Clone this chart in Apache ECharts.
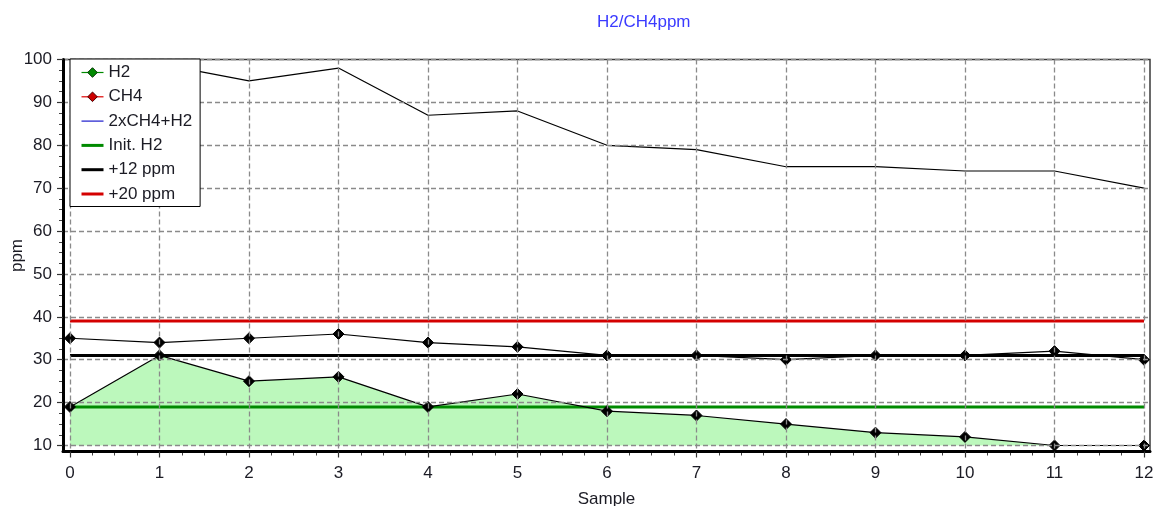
<!DOCTYPE html>
<html>
<head>
<meta charset="utf-8">
<title>H2/CH4ppm</title>
<script src="https://cdn.jsdelivr.net/npm/echarts@6/dist/echarts.min.js"></script>
<style>
  html, body { margin: 0; padding: 0; background: #ffffff; }
  #chart { width: 1158px; height: 506px; }
</style>
</head>
<body>
<div id="chart"></div>
<script>
// Sample numbers along the x axis
const samples = [0, 1, 2, 3, 4, 5, 6, 7, 8, 9, 10, 11, 12];
// Measured concentrations (ppm)
const h2Values = [19, 31, 25, 26, 19, 22, 18, 17, 15, 13, 12, 10, 10];
const ch4Values = [35, 34, 35, 36, 34, 33, 31, 31, 30, 31, 31, 32, 30];
const sumValues = [89, 99, 95, 98, 87, 88, 80, 79, 75, 75, 74, 74, 70];
// Reference levels (ppm)
const initH2Level = 19;
const plus12Level = 31;
const plus20Level = 39;
// Axis tick labels
const xTickValues = [0, 1, 2, 3, 4, 5, 6, 7, 8, 9, 10, 11, 12];
const yTickValues = [10, 20, 30, 40, 50, 60, 70, 80, 90, 100];

const FONT = '"Liberation Sans", Arial, sans-serif';
const TEXT_COLOR = '#1b1b24';

// Minor ticks: four divisions between each labelled tick
function quarterSteps(values) {
  const out = [];
  for (let i = 0; i < values.length - 1; i++) {
    const a = values[i], b = values[i + 1];
    for (let k = 1; k < 4; k++) out.push(a + (b - a) * k / 4);
  }
  return out;
}

const pairs = (ys) => samples.map((s, i) => [s, ys[i]]);
const levelLine = (v) => [[samples[0], v], [samples[samples.length - 1], v]];

const X_MIN = -0.078, X_MAX = 12.067;
const Y_MIN = 8.6, Y_MAX = 100;

const dashed = { color: '#8a8a8a', width: 1.3, type: [5, 3] };
const hiddenSymbol = { opacity: 0 };
const markerStyle = { color: '#000000', borderColor: '#000000', borderWidth: 1 };

const chart = echarts.init(document.getElementById('chart'), null, { renderer: 'canvas' });

chart.setOption({
  animation: false,
  backgroundColor: '#ffffff',
  textStyle: { fontFamily: FONT },
  title: {
    text: 'H2/CH4ppm',
    left: 597,
    top: 14,
    padding: 0,
    textStyle: { color: '#3b3bff', fontSize: 17, fontWeight: 'normal', fontFamily: FONT }
  },
  grid: {
    left: 63, right: 8, top: 59.5, bottom: 54.5,
    containLabel: false,
    outerBoundsMode: 'none',
    show: true,
    backgroundColor: '#ffffff',
    borderColor: '#3a3a3a',
    borderWidth: 1.5
  },
  legend: {
    orient: 'vertical',
    left: 70,
    top: 59,
    z: 20,
    padding: [5, 8, 4, 10],
    itemGap: 7.3,
    itemWidth: 22,
    itemHeight: 12,
    itemTextGap: 6,
    backgroundColor: '#ffffff',
    borderColor: '#000000',
    borderWidth: 1,
    borderRadius: 0,
    selectedMode: false,
    textStyle: { fontSize: 17, color: TEXT_COLOR, fontFamily: FONT },
    data: [
      { name: 'H2', itemStyle: { color: '#008a00', borderColor: '#003300', borderWidth: 1 }, lineStyle: { color: '#008a00', width: 1.2 } },
      { name: 'CH4', itemStyle: { color: '#cc0000', borderColor: '#4a0000', borderWidth: 1 }, lineStyle: { color: '#dd0000', width: 1.2 } },
      { name: '2xCH4+H2', itemStyle: hiddenSymbol, lineStyle: { color: '#1a1acc', width: 1.2 } },
      { name: 'Init. H2', itemStyle: hiddenSymbol, lineStyle: { color: '#008a00', width: 3 } },
      { name: '+12 ppm', itemStyle: hiddenSymbol, lineStyle: { color: '#000000', width: 3 } },
      { name: '+20 ppm', itemStyle: hiddenSymbol, lineStyle: { color: '#d40000', width: 3 } }
    ]
  },
  xAxis: [
    {
      type: 'value',
      min: X_MIN, max: X_MAX,
      name: 'Sample',
      nameLocation: 'middle',
      nameGap: 39,
      nameMoveOverlap: false,
      nameTextStyle: { fontSize: 17, color: TEXT_COLOR, fontFamily: FONT },
      axisLine: { show: true, onZero: false, lineStyle: { color: '#000000', width: 3 } },
      axisTick: { show: true, inside: false, length: 6, customValues: xTickValues, lineStyle: { color: '#333333', width: 1.2 } },
      axisLabel: { customValues: xTickValues, margin: 13, fontSize: 17, color: TEXT_COLOR, fontFamily: FONT },
      splitLine: { show: true, lineStyle: dashed },
      z: 5
    },
    {
      type: 'value',
      min: X_MIN, max: X_MAX,
      position: 'bottom',
      axisLine: { show: false, onZero: false },
      axisTick: { show: true, length: 4, customValues: quarterSteps(xTickValues), lineStyle: { color: '#444444', width: 1 } },
      axisLabel: { show: false },
      splitLine: { show: false }
    }
  ],
  yAxis: [
    {
      type: 'value',
      min: Y_MIN, max: Y_MAX,
      name: 'ppm',
      nameLocation: 'middle',
      nameGap: 37,
      nameRotate: 90,
      nameMoveOverlap: false,
      nameTextStyle: { fontSize: 17, color: TEXT_COLOR, fontFamily: FONT },
      axisLine: { show: true, onZero: false, lineStyle: { color: '#000000', width: 3 } },
      axisTick: { show: true, inside: false, length: 6, customValues: yTickValues, lineStyle: { color: '#333333', width: 1.2 } },
      axisLabel: { customValues: yTickValues, margin: 11, fontSize: 17, color: TEXT_COLOR, fontFamily: FONT },
      splitLine: { show: true, lineStyle: dashed },
      z: 5
    },
    {
      type: 'value',
      min: Y_MIN, max: Y_MAX,
      position: 'left',
      axisLine: { show: false, onZero: false },
      axisTick: { show: true, length: 4, customValues: quarterSteps(yTickValues), lineStyle: { color: '#444444', width: 1 } },
      axisLabel: { show: false },
      splitLine: { show: false }
    }
  ],
  series: [
    {
      // shaded region under the H2 curve
      name: 'H2 area',
      type: 'line',
      data: pairs(h2Values),
      symbol: 'none',
      silent: true,
      lineStyle: { width: 0, opacity: 0 },
      areaStyle: { color: '#bcf8bc', opacity: 1, origin: 10 },
      z: 1
    },
    {
      name: 'Init. H2',
      type: 'line',
      data: levelLine(initH2Level),
      symbol: 'none',
      lineStyle: { color: '#008a00', width: 3 },
      z: 2
    },
    {
      name: '+12 ppm',
      type: 'line',
      data: levelLine(plus12Level),
      symbol: 'none',
      lineStyle: { color: '#000000', width: 3 },
      z: 2
    },
    {
      name: '+20 ppm',
      type: 'line',
      data: levelLine(plus20Level),
      symbol: 'none',
      lineStyle: { color: '#d40000', width: 3 },
      z: 2
    },
    {
      name: '2xCH4+H2',
      type: 'line',
      data: pairs(sumValues),
      symbol: 'none',
      lineStyle: { color: '#000000', width: 1.2 },
      z: 3
    },
    {
      name: 'CH4',
      type: 'line',
      data: pairs(ch4Values),
      symbol: 'diamond',
      symbolSize: 11,
      showAllSymbol: true,
      itemStyle: markerStyle,
      lineStyle: { color: '#000000', width: 1.2 },
      z: 3
    },
    {
      name: 'H2',
      type: 'line',
      data: pairs(h2Values),
      symbol: 'diamond',
      symbolSize: 11,
      showAllSymbol: true,
      itemStyle: markerStyle,
      lineStyle: { color: '#000000', width: 1.2 },
      z: 3
    }
  ]
});
</script>
</body>
</html>
